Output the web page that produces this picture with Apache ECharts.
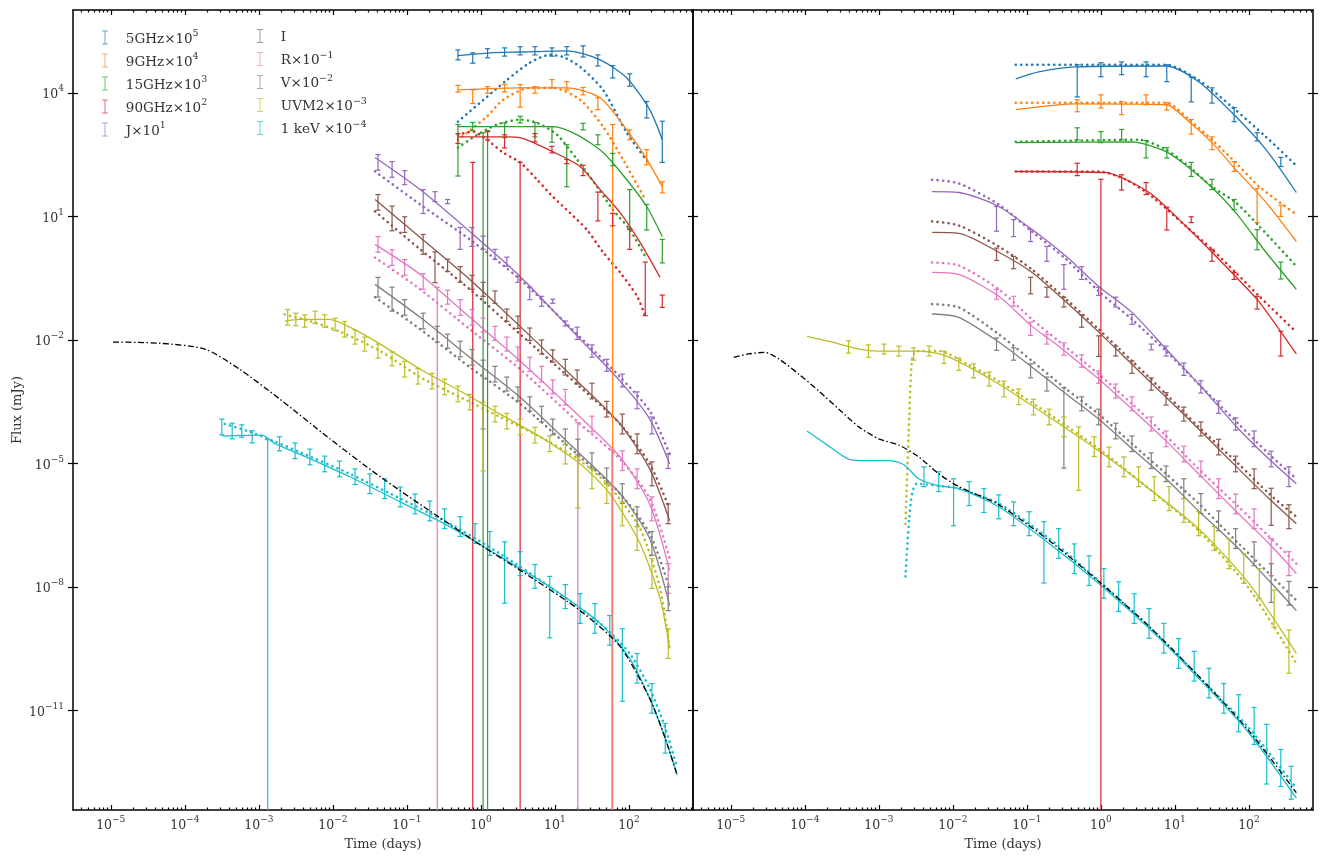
<!DOCTYPE html>
<html>
<head>
<meta charset="utf-8">
<script src="https://cdn.jsdelivr.net/npm/echarts@6/dist/echarts.min.js"></script>
<style>
html, body { margin: 0; padding: 0; background: #fff; }
#chart { width: 1324px; height: 856px; }
</style>
</head>
<body>
<div id="chart"></div>
<script>
// all values are log10: time in days, flux in mJy (already multiplied by the band scale)
var X_MIN = -5.51, X_MAX = 2.865, Y_MIN = -13.41, Y_MAX = 6.01;
var LONG = 30; // error bar running down to zero flux

var xTickExps = [-5, -4, -3, -2, -1, 0, 1, 2];
var yTickExps = [-11, -8, -5, -2, 1, 4];

var bandNames = ['5GHz×10⁵', '9GHz×10⁴', '15GHz×10³', '90GHz×10²', 'J×10¹',
                 'I', 'R×10⁻¹', 'V×10⁻²', 'UVM2×10⁻³', '1 keV ×10⁻⁴'];
var bandColors = ['#1f77b4', '#ff7f0e', '#2ca02c', '#d62728', '#9467bd',
                  '#8c564b', '#e377c2', '#7f7f7f', '#bcbd22', '#17becf'];

// ---------- left panel ----------
// model lines [logt, logF]
var L_5GHz_line = [[-0.31,4.90],[0.12,4.97],[0.53,4.99],[1.16,5.02],[1.61,4.80],[1.97,4.36],[2.28,3.59],[2.45,2.86]];
var L_5GHz_dot = [[-0.31,3.30],[0.08,3.90],[0.35,4.31],[0.66,4.73],[0.93,4.92],[1.11,4.87],[1.34,4.63],[1.65,4.07],[1.97,3.03],[2.26,2.31]];
var L_9GHz_line = [[-0.31,4.07],[0.53,4.12],[1.16,4.12],[1.61,3.88],[1.97,3.10],[2.22,2.45],[2.45,1.72]];
var L_9GHz_dot = [[-0.31,2.86],[0.08,3.42],[0.30,3.83],[0.66,4.12],[0.97,4.12],[1.34,3.83],[1.65,3.18],[1.92,2.38],[2.22,1.41]];
var L_15GHz_line = [[-0.31,3.18],[0.97,3.18],[1.30,2.98],[1.65,2.55],[1.97,1.89],[2.24,1.24],[2.45,0.51]];
var L_15GHz_dot = [[-0.31,2.67],[-0.05,2.98],[0.22,3.23],[0.53,3.35],[0.76,3.27],[1.03,2.98],[1.30,2.38],[1.57,1.72],[1.78,1.17],[2.01,0.68],[2.24,-0.04]];
var L_90GHz_line = [[-0.31,2.93],[0.35,2.93],[0.53,2.91],[0.97,2.57],[1.34,2.21],[1.61,1.65],[1.88,1.09],[2.15,0.37],[2.42,-0.48]];
var L_90GHz_dot = [[-0.31,2.98],[-0.11,3.06],[0.08,2.86],[0.30,2.55],[0.53,2.31],[0.76,1.89],[0.97,1.48],[1.20,1.09],[1.43,0.68],[1.65,0.13],[1.88,-0.36],[2.11,-0.94],[2.22,-1.42]];
var L_J_line = [[-1.43,2.43],[-0.82,1.65],[-0.15,0.63],[0.53,-0.46],[1.34,-1.98],[1.88,-3.00],[2.28,-3.92],[2.55,-5.01]];
var L_J_dot = [[-1.43,2.09],[-0.82,1.29],[-0.15,0.44],[0.53,-0.53],[1.34,-1.93],[1.88,-2.90],[2.28,-3.72],[2.55,-4.77]];
var L_I_line = [[-1.43,1.41],[-0.82,0.49],[-0.15,-0.53],[0.53,-1.67],[1.34,-3.07],[1.88,-4.04],[2.28,-5.13],[2.55,-6.39]];
var L_I_dot = [[-1.43,1.12],[-0.82,0.20],[-0.15,-0.77],[0.53,-1.86],[1.34,-3.14],[1.88,-4.04],[2.28,-5.01],[2.55,-6.10]];
var L_R_line = [[-1.43,0.32],[-0.82,-0.41],[-0.15,-1.45],[0.53,-2.51],[1.34,-3.87],[1.88,-4.84],[2.28,-5.98],[2.55,-7.60]];
var L_R_dot = [[-1.43,0.00],[-0.82,-0.77],[-0.15,-1.74],[0.53,-2.71],[1.34,-4.04],[1.88,-4.89],[2.28,-5.85],[2.55,-7.31]];
var L_V_line = [[-1.43,-0.65],[-0.82,-1.45],[-0.15,-2.42],[0.53,-3.39],[1.34,-4.77],[1.88,-5.73],[2.28,-6.82],[2.55,-8.45]];
var L_V_dot = [[-1.43,-0.96],[-0.82,-1.74],[-0.15,-2.66],[0.53,-3.55],[1.34,-4.84],[1.88,-5.73],[2.28,-6.70],[2.55,-8.03]];
var L_UVM2_line = [[-2.65,-1.54],[-2.45,-1.50],[-2.04,-1.50],[-1.77,-1.69],[-1.36,-2.10],[-0.82,-2.71],[-0.28,-3.24],[0.26,-3.80],[0.80,-4.35],[1.34,-5.01],[1.74,-5.73],[2.15,-6.94],[2.42,-8.28],[2.55,-9.49]];
var L_UVM2_dot = [[-2.65,-1.38],[-2.31,-1.54],[-1.91,-1.79],[-1.36,-2.27],[-0.82,-2.90],[-0.28,-3.39],[0.26,-3.87],[0.80,-4.35],[1.34,-4.93],[1.74,-5.56],[2.15,-6.58],[2.42,-8.03],[2.55,-9.49]];
var L_keV_line = [[-3.50,-4.33],[-2.96,-4.31],[-2.78,-4.52],[-2.45,-4.77],[-1.77,-5.32],[-1.09,-5.93],[-0.42,-6.53],[0.26,-7.26],[0.93,-7.99],[1.61,-8.88],[2.01,-9.73],[2.28,-10.70],[2.49,-11.67],[2.65,-12.56]];
var L_keV_dot = [[-3.46,-4.04],[-3.12,-4.23],[-2.78,-4.47],[-2.45,-4.72],[-1.77,-5.25],[-1.09,-5.85],[-0.42,-6.46],[0.26,-7.19],[0.93,-7.99],[1.61,-8.88],[2.01,-9.61],[2.28,-10.46],[2.49,-11.42],[2.65,-12.39]];
var L_total = [[-4.97,-2.05],[-4.34,-2.08],[-3.73,-2.22],[-3.26,-2.71],[-2.72,-3.43],[-2.04,-4.40],[-1.36,-5.32],[-0.69,-6.15],[-0.01,-6.97],[0.66,-7.74],[1.34,-8.57],[1.88,-9.44],[2.28,-10.70],[2.49,-11.67],[2.65,-12.56]];

// observations [logt, logF, down, up] (dex)
var L_5GHz_obs = [[-0.31,4.92,0.12,0.12],[-0.11,4.87,0.15,0.10],[0.09,4.97,0.12,0.10],[0.32,4.99,0.10,0.10],[0.53,5.02,0.10,0.10],[0.73,5.02,0.10,0.10],[0.96,4.99,0.10,0.10],[1.16,5.02,0.10,0.10],[1.38,4.99,0.12,0.15],[1.58,4.80,0.15,0.12],[1.78,4.51,0.15,0.15],[2.01,4.31,0.15,0.15],[2.24,3.59,0.20,0.20],[2.45,2.81,0.50,0.50]];
var L_9GHz_obs = [[-0.31,4.10,0.08,0.08],[-0.11,4.02,0.28,0.05],[0.09,4.07,0.08,0.08],[0.32,4.12,0.10,0.08],[0.53,4.15,0.50,0.05],[0.73,4.07,0.08,0.08],[0.96,4.24,0.12,0.08],[1.16,4.19,0.12,0.08],[1.38,4.05,0.10,0.08],[1.58,3.76,0.17,0.12],[1.78,3.18,LONG,0.05],[2.01,2.98,0.12,0.12],[2.24,2.45,0.20,0.17],[2.45,1.77,0.20,0.07]];
var L_15GHz_obs = [[-0.31,3.18,1.20,0.05],[-0.11,3.18,0.10,0.10],[0.03,2.98,LONG,0.05],[0.09,3.03,LONG,0.05],[0.32,3.15,0.24,0.12],[0.53,3.35,0.08,0.08],[0.73,3.23,0.30,0.05],[0.96,3.15,0.35,0.03],[1.16,2.69,0.97,0.05],[1.38,3.18,0.08,0.08],[1.58,2.86,0.12,0.12],[1.78,2.38,0.15,0.15],[2.01,1.41,0.73,0.24],[2.24,1.17,0.50,0.12],[2.45,0.32,0.45,0.12]];
var L_90GHz_obs = [[-0.31,2.89,0.12,0.12],[-0.11,2.21,LONG,0.10],[0.09,2.96,0.10,0.10],[0.32,2.86,0.20,0.12],[0.53,2.21,LONG,0.10],[0.73,2.91,0.10,0.10],[0.96,2.62,0.08,0.08],[1.16,2.33,0.05,0.05],[1.38,2.14,0.15,0.10],[1.58,1.09,0.20,0.50],[1.78,0.92,0.15,0.15],[2.01,0.25,0.05,0.45],[2.22,-1.01,0.40,0.90],[2.45,-0.96,0.25,0.05]];
var L_J_obs = [[-1.39,2.31,0.19,0.19],[-1.20,2.14,0.19,0.19],[-1.03,1.94,0.17,0.17],[-0.78,1.46,0.39,0.19],[-0.62,1.48,0.12,0.12],[-0.45,1.36,0.05,0.05],[-0.28,0.49,0.29,0.24],[-0.12,0.51,0.24,0.22],[0.03,0.37,0.17,0.15],[0.19,0.08,0.12,0.12],[0.35,-0.09,0.12,0.10],[0.50,-0.53,0.07,0.07],[0.66,-0.87,0.15,0.15],[0.82,-1.06,0.12,0.12],[0.97,-1.06,0.05,0.05],[1.14,-1.59,0.07,0.05],[1.30,-1.84,0.15,0.15],[1.50,-2.27,0.15,0.15],[1.70,-2.59,0.17,0.12],[1.91,-2.95,0.19,0.12],[2.11,-3.43,0.24,0.17],[2.31,-4.04,0.24,0.17],[2.53,-4.93,0.19,0.17]];
var L_I_obs = [[-1.39,1.34,0.19,0.19],[-1.20,1.05,0.40,0.20],[-1.03,0.80,0.19,0.19],[-0.78,0.32,0.24,0.24],[-0.62,-0.16,0.45,0.30],[-0.45,-0.19,0.15,0.15],[-0.28,-0.41,0.19,0.19],[-0.12,-0.60,0.17,0.17],[0.03,-0.77,0.17,0.17],[0.19,-0.96,0.15,0.15],[0.35,-1.40,0.15,0.15],[0.50,-1.57,0.15,0.15],[0.66,-1.86,0.15,0.15],[0.82,-2.17,0.17,0.17],[0.97,-2.39,0.15,0.15],[1.14,-2.66,0.19,0.19],[1.30,-2.90,0.17,0.17],[1.50,-3.24,0.19,0.19],[1.70,-3.68,0.19,0.19],[1.91,-4.04,0.24,0.24],[2.11,-4.52,0.24,0.24],[2.31,-5.25,0.29,0.29],[2.53,-6.22,0.24,0.24]];
var L_R_obs = [[-1.39,0.32,0.19,0.19],[-1.20,0.00,0.19,0.19],[-1.03,-0.24,0.19,0.19],[-0.78,-0.58,0.19,0.19],[-0.59,-0.82,LONG,0.10],[-0.45,-0.96,0.17,0.17],[-0.28,-1.21,0.19,0.19],[-0.12,-1.45,0.19,0.19],[0.03,-1.64,0.17,0.17],[0.19,-1.84,0.17,0.17],[0.35,-2.10,0.17,0.17],[0.50,-2.34,0.17,0.17],[0.66,-2.59,0.17,0.17],[0.82,-2.83,0.19,0.19],[0.97,-3.14,0.17,0.17],[1.14,-3.39,0.19,0.19],[1.31,-4.11,LONG,0.10],[1.50,-4.04,0.19,0.19],[1.77,-4.77,LONG,0.10],[1.91,-4.93,0.24,0.24],[2.11,-5.37,0.24,0.24],[2.31,-6.10,0.29,0.29],[2.53,-7.79,0.36,0.36]];
var L_V_obs = [[-1.39,-0.72,0.24,0.24],[-1.20,-1.01,0.29,0.29],[-1.03,-1.21,0.19,0.19],[-0.78,-1.54,0.19,0.19],[-0.59,-1.86,0.19,0.19],[-0.45,-2.03,0.17,0.17],[-0.28,-2.22,0.19,0.19],[-0.12,-2.42,0.19,0.19],[0.03,-2.66,1.50,0.17],[0.19,-2.83,0.19,0.19],[0.35,-3.07,0.17,0.17],[0.50,-3.31,0.17,0.17],[0.66,-3.55,0.17,0.17],[0.82,-3.80,0.19,0.19],[0.97,-4.11,0.19,0.19],[1.14,-4.35,0.19,0.19],[1.31,-4.60,0.19,0.19],[1.50,-4.93,0.19,0.19],[1.70,-5.30,0.19,0.19],[1.91,-5.73,0.24,0.24],[2.11,-6.29,0.24,0.24],[2.31,-6.94,0.29,0.29],[2.53,-8.28,0.29,0.29]];
var L_UVM2_obs = [[-2.61,-1.45,0.19,0.19],[-2.50,-1.50,0.15,0.15],[-2.38,-1.54,0.15,0.15],[-2.24,-1.45,0.15,0.15],[-2.11,-1.54,0.15,0.15],[-1.97,-1.62,0.15,0.15],[-1.84,-1.74,0.19,0.19],[-1.70,-1.93,0.17,0.17],[-1.57,-2.10,0.17,0.17],[-1.39,-2.27,0.17,0.17],[-1.20,-2.46,0.17,0.17],[-1.03,-2.71,0.19,0.19],[-0.85,-2.88,0.19,0.19],[-0.66,-3.00,0.19,0.19],[-0.49,-3.14,0.19,0.19],[-0.31,-3.31,0.19,0.19],[-0.15,-3.51,0.19,0.19],[0.03,-3.68,1.50,0.17],[0.19,-3.80,0.19,0.19],[0.35,-3.97,0.19,0.19],[0.53,-4.11,0.19,0.19],[0.73,-4.31,0.19,0.19],[0.93,-4.52,0.19,0.19],[1.14,-4.77,0.24,0.24],[1.31,-5.08,1.00,0.24],[1.50,-5.37,0.24,0.24],[1.70,-5.73,0.24,0.24],[1.91,-6.22,0.29,0.29],[2.11,-6.82,0.29,0.29],[2.31,-7.67,0.36,0.36],[2.53,-9.37,0.36,0.36]];
var L_keV_obs = [[-3.50,-4.11,0.19,0.19],[-3.36,-4.21,0.19,0.19],[-3.23,-4.21,0.15,0.15],[-3.09,-4.35,0.15,0.15],[-2.88,-4.52,LONG,0.10],[-2.72,-4.52,0.17,0.17],[-2.51,-4.69,0.19,0.19],[-2.31,-4.84,0.19,0.19],[-2.11,-5.01,0.19,0.19],[-1.91,-5.13,0.19,0.19],[-1.70,-5.32,0.19,0.19],[-1.50,-5.49,0.24,0.24],[-1.30,-5.61,0.24,0.24],[-1.09,-5.81,0.24,0.24],[-0.89,-5.98,0.24,0.24],[-0.69,-6.15,0.24,0.24],[-0.49,-6.34,0.24,0.24],[-0.28,-6.53,0.24,0.24],[-0.08,-6.70,0.24,0.24],[0.12,-6.94,0.29,0.29],[0.32,-7.19,1.20,0.29],[0.53,-7.43,0.29,0.29],[0.73,-7.74,0.29,0.29],[0.93,-8.03,1.20,0.29],[1.14,-8.23,0.29,0.29],[1.34,-8.52,0.36,0.36],[1.54,-8.76,0.36,0.36],[1.74,-9.05,0.36,0.36],[1.91,-9.37,1.40,0.36],[2.11,-9.97,0.36,0.36],[2.31,-10.70,0.36,0.36],[2.49,-11.67,0.36,0.36]];

// ---------- right panel ----------
var R_5GHz_line = [[-1.15,4.34],[-0.84,4.51],[-0.34,4.63],[0.88,4.65],[1.32,4.27],[1.77,3.52],[2.23,2.62],[2.64,1.58]];
var R_5GHz_dot = [[-1.15,4.68],[0.88,4.68],[1.32,4.31],[1.77,3.66],[2.23,2.93],[2.64,2.23]];
var R_9GHz_line = [[-1.15,3.59],[-0.34,3.73],[0.88,3.71],[1.19,3.30],[1.50,2.79],[1.82,2.14],[2.23,1.34],[2.64,0.39]];
var R_9GHz_dot = [[-1.15,3.76],[0.88,3.76],[1.19,3.35],[1.50,2.86],[1.82,2.31],[2.14,1.72],[2.64,1.05]];
var R_15GHz_line = [[-1.15,2.79],[0.42,2.81],[0.88,2.57],[1.19,2.18],[1.50,1.70],[1.82,1.09],[2.23,0.13],[2.64,-0.77]];
var R_15GHz_dot = [[-1.15,2.81],[0.51,2.86],[0.88,2.62],[1.19,2.21],[1.50,1.72],[1.82,1.34],[2.14,0.76],[2.64,-0.21]];
var R_90GHz_line = [[-1.15,2.09],[0.07,2.06],[0.34,1.89],[0.69,1.53],[1.15,0.76],[1.50,0.13],[1.82,-0.46],[2.14,-1.08],[2.64,-2.34]];
var R_90GHz_dot = [[-1.15,2.09],[-0.03,2.09],[0.34,1.89],[0.69,1.48],[1.15,0.76],[1.50,0.20],[1.82,-0.36],[2.14,-0.94],[2.64,-1.81]];
var R_J_line = [[-2.28,1.60],[-1.92,1.58],[-1.38,1.24],[-0.93,0.68],[-0.47,0.03],[-0.03,-0.70],[0.42,-1.33],[0.88,-2.22],[1.32,-3.07],[1.86,-4.16],[2.27,-4.89],[2.64,-5.49]];
var R_J_dot = [[-2.28,1.89],[-1.92,1.80],[-1.38,1.29],[-0.93,0.63],[-0.47,-0.04],[-0.03,-0.82],[0.42,-1.50],[0.88,-2.27],[1.32,-3.07],[1.86,-4.04],[2.27,-4.77],[2.64,-5.37]];
var R_I_line = [[-2.28,0.61],[-1.92,0.59],[-1.38,0.13],[-0.93,-0.36],[-0.47,-1.08],[-0.03,-1.81],[0.42,-2.59],[0.88,-3.39],[1.32,-4.16],[1.86,-5.13],[2.27,-5.85],[2.64,-6.46]];
var R_I_dot = [[-2.28,0.88],[-1.92,0.78],[-1.38,0.27],[-0.93,-0.29],[-0.47,-1.01],[-0.03,-1.74],[0.42,-2.51],[0.88,-3.31],[1.32,-4.11],[1.86,-5.01],[2.27,-5.73],[2.64,-6.29]];
var R_R_line = [[-2.28,-0.36],[-1.92,-0.41],[-1.38,-0.94],[-0.93,-1.67],[-0.57,-2.15],[-0.03,-2.95],[0.42,-3.68],[0.88,-4.45],[1.32,-5.25],[1.86,-6.22],[2.27,-6.94],[2.64,-7.67]];
var R_R_dot = [[-2.28,-0.12],[-1.92,-0.19],[-1.38,-0.77],[-0.93,-1.50],[-0.57,-2.03],[-0.03,-2.83],[0.42,-3.55],[0.88,-4.33],[1.32,-5.13],[1.86,-6.05],[2.27,-6.77],[2.64,-7.43]];
var R_V_line = [[-2.28,-1.37],[-1.92,-1.45],[-1.38,-2.05],[-0.93,-2.66],[-0.47,-3.31],[-0.03,-3.92],[0.42,-4.64],[0.88,-5.37],[1.32,-6.15],[1.86,-7.06],[2.27,-7.84],[2.64,-8.57]];
var R_V_dot = [[-2.28,-1.13],[-1.92,-1.21],[-1.38,-1.86],[-0.93,-2.51],[-0.47,-3.19],[-0.03,-3.80],[0.42,-4.52],[0.88,-5.25],[1.32,-5.97],[1.86,-6.94],[2.27,-7.67],[2.64,-8.32]];
var R_UVM2_line = [[-3.97,-1.91],[-3.68,-2.03],[-3.27,-2.22],[-3.00,-2.27],[-2.46,-2.27],[-2.12,-2.37],[-1.78,-2.66],[-1.38,-3.07],[-0.70,-3.87],[-0.03,-4.69],[0.65,-5.61],[1.32,-6.58],[2.00,-7.91],[2.64,-9.61]];
var R_UVM2_dot = [[-2.64,-6.46],[-2.59,-3.92],[-2.55,-2.46],[-2.49,-2.27],[-2.19,-2.27],[-1.78,-2.61],[-1.38,-3.00],[-0.70,-3.80],[-0.03,-4.64],[0.65,-5.61],[1.32,-6.63],[2.00,-8.03],[2.64,-9.85]];
var R_keV_line = [[-3.97,-4.21],[-3.68,-4.57],[-3.41,-4.89],[-3.14,-4.93],[-2.86,-4.93],[-2.66,-5.03],[-2.46,-5.37],[-2.19,-5.54],[-1.92,-5.61],[-1.38,-6.05],[-0.70,-6.94],[-0.03,-7.91],[0.65,-9.00],[1.32,-10.21],[2.00,-11.54],[2.64,-13.12]];
var R_keV_dot = [[-2.64,-7.74],[-2.59,-6.34],[-2.55,-5.73],[-2.49,-5.49],[-2.19,-5.54],[-1.92,-5.61],[-1.38,-5.97],[-0.70,-6.82],[-0.03,-7.84],[0.65,-8.96],[1.32,-10.17],[2.00,-11.42],[2.64,-12.88]];
var R_total = [[-4.96,-2.42],[-4.76,-2.34],[-4.54,-2.30],[-4.35,-2.46],[-4.08,-2.83],[-3.81,-3.24],[-3.54,-3.68],[-3.27,-4.11],[-3.00,-4.40],[-2.73,-4.55],[-2.46,-4.84],[-2.19,-5.25],[-1.92,-5.56],[-1.38,-6.00],[-0.70,-6.87],[-0.03,-7.86],[0.65,-8.95],[1.32,-10.16],[2.00,-11.49],[2.64,-12.99]];

var R_5GHz_obs = [[-0.32,4.63,0.73,0.05],[0.00,4.63,0.24,0.10],[0.28,4.68,0.24,0.07],[0.61,4.68,0.29,0.07],[0.89,4.61,0.34,0.07],[1.22,4.31,0.53,0.07],[1.50,4.02,0.27,0.10],[1.80,3.54,0.24,0.10],[2.11,2.93,0.10,0.10],[2.43,2.38,0.17,0.05]];
var R_9GHz_obs = [[-0.32,3.78,0.24,0.05],[0.00,3.83,0.20,0.12],[0.28,3.76,0.29,0.03],[0.61,3.83,0.12,0.12],[0.89,3.73,0.15,0.03],[1.22,3.30,0.30,0.05],[1.50,2.86,0.24,0.07],[1.80,2.26,0.17,0.07],[2.11,1.65,0.80,0.03],[2.43,1.24,0.24,0.03]];
var R_15GHz_obs = [[-0.32,3.10,0.24,0.05],[0.00,3.03,0.24,0.03],[0.28,3.06,0.20,0.05],[0.61,2.81,0.39,0.03],[0.89,2.62,0.20,0.05],[1.22,2.26,0.29,0.05],[1.50,1.85,0.20,0.05],[1.80,1.36,0.20,0.05],[2.11,0.63,0.44,0.05],[2.43,-0.16,0.36,0.05]];
var R_90GHz_obs = [[-0.32,2.14,0.15,0.15],[0.00,1.85,LONG,0.05],[0.28,1.94,0.30,0.07],[0.61,1.77,0.24,0.05],[0.89,1.17,0.50,0.05],[1.22,0.92,0.07,0.07],[1.50,0.15,0.24,0.05],[1.80,-0.41,0.12,0.05],[2.11,-1.01,0.24,0.07],[2.43,-1.86,0.53,0.07]];
var R_J_obs = [[-1.41,1.17,0.53,0.07],[-1.18,0.80,0.29,0.12],[-0.95,0.61,0.22,0.07],[-0.73,0.20,0.29,0.07],[-0.50,-0.24,0.53,0.07],[-0.26,-0.29,0.24,0.07],[-0.03,-0.82,0.10,0.10],[0.20,-1.08,0.12,0.12],[0.42,-1.50,0.12,0.12],[0.68,-2.17,0.07,0.07],[0.88,-2.27,0.12,0.12],[1.12,-2.71,0.15,0.15],[1.35,-3.14,0.15,0.15],[1.59,-3.63,0.15,0.15],[1.82,-4.04,0.15,0.15],[2.07,-4.40,0.19,0.19],[2.30,-4.89,0.19,0.19],[2.54,-5.32,0.24,0.24]];
var R_I_obs = [[-1.41,0.08,0.15,0.15],[-1.18,-0.12,0.15,0.15],[-0.95,-0.58,0.30,0.10],[-0.73,-0.84,0.12,0.12],[-0.50,-1.08,0.12,0.12],[-0.26,-1.54,0.15,0.15],[-0.03,-2.10,0.30,0.20],[0.20,-2.27,0.12,0.12],[0.42,-2.66,0.15,0.15],[0.68,-3.07,0.15,0.15],[0.88,-3.43,0.15,0.15],[1.12,-3.80,0.17,0.17],[1.35,-4.16,0.17,0.17],[1.59,-4.60,0.19,0.19],[1.82,-5.01,0.19,0.19],[2.07,-5.37,0.24,0.24],[2.30,-5.80,0.70,0.20],[2.54,-6.29,0.29,0.29]];
var R_R_obs = [[-1.41,-0.89,0.12,0.12],[-1.18,-1.06,0.12,0.12],[-0.95,-1.69,0.20,0.12],[-0.73,-1.98,0.12,0.12],[-0.50,-2.22,0.15,0.15],[-0.26,-2.51,0.15,0.15],[-0.03,-2.90,0.15,0.15],[0.20,-3.24,0.17,0.17],[0.42,-3.55,0.17,0.17],[0.68,-4.04,0.17,0.17],[0.88,-4.40,0.19,0.19],[1.12,-4.77,0.19,0.19],[1.35,-5.13,0.19,0.19],[1.59,-5.61,0.24,0.24],[1.82,-5.98,0.24,0.24],[2.07,-6.34,0.24,0.24],[2.30,-7.02,0.70,0.20],[2.54,-7.43,0.29,0.29]];
var R_V_obs = [[-1.41,-2.10,0.15,0.15],[-1.18,-2.34,0.15,0.15],[-0.95,-2.75,0.17,0.17],[-0.73,-3.07,0.17,0.17],[-0.50,-3.31,1.80,0.15],[-0.26,-3.55,0.17,0.17],[-0.03,-3.87,0.19,0.19],[0.20,-4.21,0.19,0.19],[0.42,-4.52,0.19,0.19],[0.68,-4.93,0.19,0.19],[0.88,-5.25,0.19,0.19],[1.12,-5.61,0.24,0.24],[1.35,-5.97,0.24,0.24],[1.59,-6.39,0.24,0.24],[1.82,-6.82,0.24,0.24],[2.07,-7.19,0.29,0.29],[2.30,-7.67,0.70,0.24],[2.54,-8.15,0.29,0.29]];
var R_UVM2_obs = [[-3.41,-2.17,0.15,0.15],[-3.14,-2.27,0.15,0.15],[-2.93,-2.22,0.12,0.12],[-2.73,-2.27,0.12,0.12],[-2.53,-2.34,0.15,0.15],[-2.32,-2.27,0.12,0.12],[-2.12,-2.42,0.15,0.15],[-1.92,-2.59,0.15,0.15],[-1.72,-2.75,0.17,0.17],[-1.51,-2.95,0.17,0.17],[-1.31,-3.19,0.19,0.19],[-1.11,-3.38,0.19,0.19],[-0.91,-3.63,0.19,0.19],[-0.70,-3.87,0.19,0.19],[-0.50,-4.11,0.24,0.24],[-0.30,-4.35,1.30,0.24],[-0.09,-4.59,0.24,0.24],[0.11,-4.84,0.24,0.24],[0.31,-5.08,0.24,0.24],[0.51,-5.32,0.24,0.24],[0.72,-5.61,0.29,0.29],[0.92,-5.85,0.29,0.29],[1.12,-6.14,0.29,0.29],[1.32,-6.46,0.29,0.29],[1.53,-6.82,0.29,0.29],[1.73,-7.19,0.36,0.36],[1.93,-7.55,0.36,0.36],[2.14,-7.91,0.36,0.36],[2.34,-8.52,0.45,0.45],[2.54,-9.49,0.60,0.45]];
var R_keV_obs = [[-2.39,-5.32,0.24,0.24],[-2.19,-5.44,0.24,0.24],[-1.99,-5.61,0.90,0.24],[-1.78,-5.73,0.29,0.29],[-1.58,-5.90,0.29,0.29],[-1.38,-6.05,0.29,0.29],[-1.18,-6.22,0.29,0.29],[-0.97,-6.46,0.29,0.29],[-0.77,-6.70,1.20,0.29],[-0.57,-6.94,0.36,0.36],[-0.36,-7.31,0.36,0.36],[-0.16,-7.60,0.36,0.36],[0.04,-7.91,0.36,0.36],[0.24,-8.23,0.36,0.36],[0.45,-8.52,0.36,0.36],[0.65,-8.88,0.36,0.36],[0.85,-9.24,0.36,0.36],[1.05,-9.61,0.36,0.36],[1.26,-9.92,0.36,0.36],[1.46,-10.33,0.36,0.36],[1.66,-10.70,0.36,0.36],[1.86,-11.06,0.45,0.45],[2.07,-11.37,0.45,0.45],[2.24,-11.78,1.00,0.45],[2.43,-12.39,0.45,0.45],[2.57,-12.75,0.40,0.40]];

var leftLines = [L_5GHz_line, L_9GHz_line, L_15GHz_line, L_90GHz_line, L_J_line, L_I_line, L_R_line, L_V_line, L_UVM2_line, L_keV_line];
var leftDots = [L_5GHz_dot, L_9GHz_dot, L_15GHz_dot, L_90GHz_dot, L_J_dot, L_I_dot, L_R_dot, L_V_dot, L_UVM2_dot, L_keV_dot];
var leftObs = [L_5GHz_obs, L_9GHz_obs, L_15GHz_obs, L_90GHz_obs, L_J_obs, L_I_obs, L_R_obs, L_V_obs, L_UVM2_obs, L_keV_obs];
var rightLines = [R_5GHz_line, R_9GHz_line, R_15GHz_line, R_90GHz_line, R_J_line, R_I_line, R_R_line, R_V_line, R_UVM2_line, R_keV_line];
var rightDots = [R_5GHz_dot, R_9GHz_dot, R_15GHz_dot, R_90GHz_dot, R_J_dot, R_I_dot, R_R_dot, R_V_dot, R_UVM2_dot, R_keV_dot];
var rightObs = [R_5GHz_obs, R_9GHz_obs, R_15GHz_obs, R_90GHz_obs, R_J_obs, R_I_obs, R_R_obs, R_V_obs, R_UVM2_obs, R_keV_obs];

var FONT = 'DejaVu Serif';
var TXT = '#333';
// "10" with a raised exponent, drawn as rich text
var POW_RICH = {
    b: { fontFamily: FONT, fontSize: 12.5, color: TXT, lineHeight: 17, verticalAlign: 'bottom' },
    s: { fontFamily: FONT, fontSize: 9, color: TXT, lineHeight: 9, verticalAlign: 'top' }
};
function powLabel(v) {
    var e = Math.round(v);
    return '{b|10}{s|' + (e < 0 ? '−' + (-e) : e) + '}';
}
var SUP_BACK = {'⁻': '−', '⁰': '0', '¹': '1', '²': '2', '³': '3', '⁴': '4', '⁵': '5', '⁶': '6', '⁷': '7', '⁸': '8', '⁹': '9'};
var LEG_RICH = {
    b: { fontFamily: FONT, fontSize: 13.5, color: TXT, lineHeight: 17, verticalAlign: 'bottom' },
    s: { fontFamily: FONT, fontSize: 9.5, color: TXT, lineHeight: 10, verticalAlign: 'top' }
};
function legendLabel(name) {
    var m = name.match(/^(.*?)([⁻⁰¹²³⁴⁵⁶⁷⁸⁹]+)$/);
    if (!m) return '{b|   ' + name + '}';
    var exp = m[2].split('').map(function (c) { return SUP_BACK[c]; }).join('');
    return '{b|   ' + m[1] + '}{s|' + exp + '}';
}

// log-spaced minor ticks on the time axis
var xMinor = [];
for (var n = -6; n <= 2; n++) {
    for (var k = 2; k <= 9; k++) {
        var v = n + Math.log10(k);
        if (v > X_MIN && v < X_MAX) xMinor.push(v);
    }
}

var AXIS_LINE = { show: true, onZero: false, lineStyle: { color: '#000', width: 1.5 } };
var TICK_STYLE = { color: '#000', width: 1.2 };

function makeXAxes(gi) {
    var base = { type: 'value', gridIndex: gi, min: X_MIN, max: X_MAX, splitLine: { show: false } };
    return [
        Object.assign({}, base, {
            position: 'bottom', axisLine: AXIS_LINE,
            axisTick: { show: true, inside: true, length: 5, customValues: xTickExps, lineStyle: TICK_STYLE },
            axisLabel: { show: true, customValues: xTickExps, formatter: powLabel, margin: 5, rich: POW_RICH },
            name: 'Time (days)', nameLocation: 'middle', nameGap: 28,
            nameTextStyle: { fontFamily: FONT, fontSize: 13, color: TXT }
        }),
        Object.assign({}, base, {
            position: 'top', axisLine: AXIS_LINE,
            axisTick: { show: true, inside: true, length: 5, customValues: xTickExps, lineStyle: TICK_STYLE },
            axisLabel: { show: false }
        }),
        Object.assign({}, base, {
            position: 'bottom', axisLine: { show: false, onZero: false },
            axisTick: { show: true, inside: true, length: 2.5, customValues: xMinor, lineStyle: TICK_STYLE },
            axisLabel: { show: false }
        }),
        Object.assign({}, base, {
            position: 'top', axisLine: { show: false, onZero: false },
            axisTick: { show: true, inside: true, length: 2.5, customValues: xMinor, lineStyle: TICK_STYLE },
            axisLabel: { show: false }
        })
    ];
}

function makeYAxes(gi, outerSide) {
    var base = { type: 'value', gridIndex: gi, min: Y_MIN, max: Y_MAX, splitLine: { show: false } };
    var left = Object.assign({}, base, {
        position: 'left', axisLine: AXIS_LINE,
        axisTick: { show: true, inside: true, length: 5, customValues: yTickExps, lineStyle: TICK_STYLE },
        axisLabel: { show: false }
    });
    if (gi === 0) {
        left.axisLabel = { show: true, customValues: yTickExps, formatter: powLabel, margin: 9, rich: POW_RICH };
        left.name = 'Flux (mJy)';
        left.nameLocation = 'middle';
        left.nameGap = 49;
        left.nameTextStyle = { fontFamily: FONT, fontSize: 13, color: TXT };
    }
    return [
        left,
        Object.assign({}, base, {
            position: 'right', axisLine: AXIS_LINE,
            axisTick: { show: true, inside: true, length: 5, customValues: yTickExps, lineStyle: TICK_STYLE },
            axisLabel: { show: false }
        }),
        Object.assign({}, base, {
            position: outerSide, axisLine: { show: false, onZero: false },
            axisTick: { show: true, inside: false, length: 5, customValues: yTickExps, lineStyle: TICK_STYLE },
            axisLabel: { show: false }
        })
    ];
}

function renderErr(params, api) {
    var x = api.value(0), lo = api.value(2), hi = api.value(3);
    var pHi = api.coord([x, hi]);
    var pLo = api.coord([x, lo]);
    var cw = 2.6;
    var style = { stroke: api.visual('color'), lineWidth: 1.2 };
    var children = [
        { type: 'line', shape: { x1: pHi[0], y1: pHi[1], x2: pLo[0], y2: pLo[1] }, style: style },
        { type: 'line', shape: { x1: pHi[0] - cw, y1: pHi[1], x2: pHi[0] + cw, y2: pHi[1] }, style: style }
    ];
    if (lo > Y_MIN) {
        children.push({ type: 'line', shape: { x1: pLo[0] - cw, y1: pLo[1], x2: pLo[0] + cw, y2: pLo[1] }, style: style });
    }
    return { type: 'group', children: children };
}

var series = [];
function addPanel(lines, dots, obs, total, xi, yi) {
    for (var i = 0; i < bandNames.length; i++) {
        var c = bandColors[i];
        series.push({
            name: bandNames[i], type: 'custom', xAxisIndex: xi, yAxisIndex: yi,
            itemStyle: { color: c }, encode: { x: 0, y: 1 }, silent: true, z: 3,
            renderItem: renderErr,
            data: obs[i].map(function (d) {
                return [d[0], d[1], Math.max(d[1] - d[2], Y_MIN), d[1] + d[3]];
            })
        });
        series.push({
            name: bandNames[i], type: 'line', xAxisIndex: xi, yAxisIndex: yi,
            data: lines[i], symbol: 'none', showSymbol: false, smooth: 0.25,
            silent: true, z: 2, itemStyle: { color: c },
            lineStyle: { color: c, width: 1.3 }
        });
        series.push({
            name: bandNames[i], type: 'line', xAxisIndex: xi, yAxisIndex: yi,
            data: dots[i], symbol: 'none', showSymbol: false, smooth: 0.25,
            silent: true, z: 2, itemStyle: { color: c },
            lineStyle: { color: c, width: 2.6, type: [0.1, 5.4], cap: 'round' }
        });
    }
    series.push({
        name: 'total', type: 'line', xAxisIndex: xi, yAxisIndex: yi,
        data: total, symbol: 'none', showSymbol: false, smooth: 0.25,
        silent: true, z: 4, itemStyle: { color: '#000' },
        lineStyle: { color: '#000', width: 1.3, type: [6, 2.5, 1.5, 2.5] }
    });
}
addPanel(leftLines, leftDots, leftObs, L_total, 0, 0);
addPanel(rightLines, rightDots, rightObs, R_total, 4, 3);

var IBEAM = 'path://M0,0H6V1H3.5V13H6V14H0V13H2.5V1H0Z';
function legendBlock(names, left) {
    return {
        data: names.map(function (n) { return { name: n, icon: IBEAM }; }),
        orient: 'vertical', left: left, top: 24,
        itemWidth: 6, itemHeight: 14, itemGap: 6,
        selectedMode: false,
        itemStyle: { opacity: 0.65 },
        formatter: legendLabel,
        textStyle: { rich: LEG_RICH }
    };
}

var chart = echarts.init(document.getElementById('chart'));
chart.setOption({
    animation: false,
    backgroundColor: '#fff',
    grid: [
        { left: 73, top: 10, width: 620, height: 802 },
        { left: 693, top: 10, width: 620, height: 802 }
    ],
    xAxis: makeXAxes(0).concat(makeXAxes(1)),
    yAxis: makeYAxes(0, 'left').concat(makeYAxes(1, 'right')),
    legend: [legendBlock(bandNames.slice(0, 5), 97), legendBlock(bandNames.slice(5), 252)],
    series: series
});
</script>
</body>
</html>
